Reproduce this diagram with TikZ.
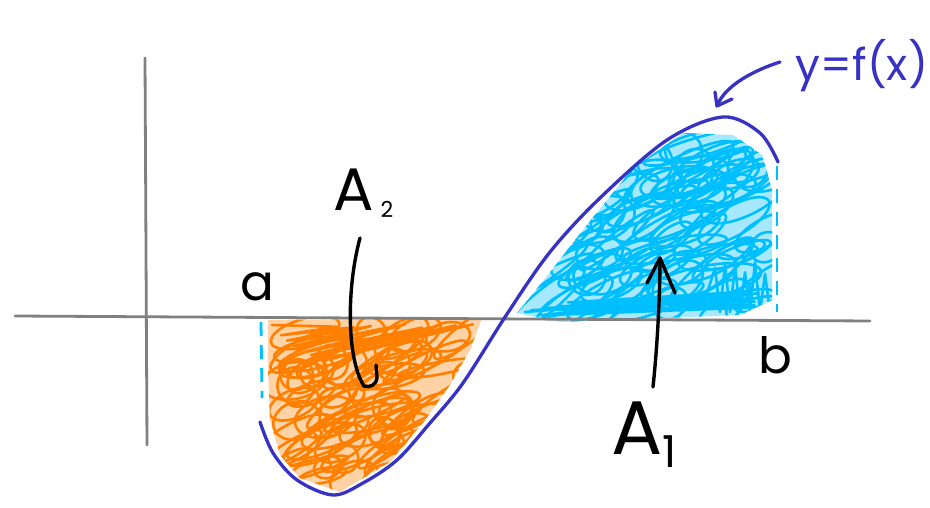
\documentclass[tikz,border=0pt]{standalone}
\usepackage{fontspec}
\setmainfont{Poppins}
\definecolor{curveblue}{RGB}{55,50,195}
\definecolor{skyfill}{RGB}{0,191,255}
\definecolor{orfill}{RGB}{255,128,0}
\definecolor{axisgray}{RGB}{128,128,128}
\tikzset{
  axisline/.style={draw=axisgray, line width=2.8pt, line cap=round},
  curveline/.style={draw=curveblue, line width=3.3pt, line cap=round},
  ink/.style={draw=black, line width=3.4pt, line cap=round, line join=round},
  blueink/.style={draw=curveblue, line width=3.3pt, line cap=round, line join=round},
  lbl/.style={inner sep=0pt, text=black},
  dashedge/.style={draw=skyfill, line width=2.8pt, dash pattern=on 14pt off 9pt},
  scrib/.style={line width=2.6pt, line cap=round, line join=round}
}
\begin{document}
\begin{tikzpicture}[x=1pt,y=-1pt]
\useasboundingbox (0,0) rectangle (930,508);
\fill[white] (0,0) rectangle (930,508);
\pgfmathsetseed{11}
% ---- orange region scribble ----
\begin{scope}
  \clip (268,320) -- (482,318) -- (470,350) -- (450,385) -- (425,420) -- (390,462) -- (340,492) -- (300,478) -- (280,455) -- (270,420) -- (268,370) -- cycle;
  \fill[orfill!35!white] (260,310) rectangle (490,500);
  \foreach \i in {1,...,75}{
    \pgfmathsetmacro\cx{285+rnd*190}
    \pgfmathsetmacro\cy{330+rnd*155}
    \pgfmathsetmacro\rx{14+rnd*40}
    \pgfmathsetmacro\ry{6+rnd*14}
    \pgfmathsetmacro\ang{10+rnd*28}
    \draw[scrib, orfill, rotate around={\ang:(\cx,\cy)}] (\cx,\cy) ellipse [x radius=\rx pt, y radius=\ry pt];
  }
  \draw[scrib, orfill] (272,325) \foreach \k in {1,...,9}{ -- ({320+\k*17},{322+rnd*6}) -- ({275+\k*6},{330+\k*3+rnd*8}) };
\end{scope}
% ---- blue region scribble ----
\begin{scope}
  \clip (517,313) -- (540,285) -- (583,230) -- (633,168) -- (683,133) -- (733,135) -- (762,155) -- (772,190) -- (772,300) -- (740,315) -- (560,322) -- cycle;
  \fill[skyfill!35!white] (510,120) rectangle (780,325);
  \foreach \i in {1,...,95}{
    \pgfmathsetmacro\cx{540+rnd*230}
    \pgfmathsetmacro\cy{145+rnd*170}
    \pgfmathsetmacro\rx{16+rnd*45}
    \pgfmathsetmacro\ry{6+rnd*16}
    \pgfmathsetmacro\ang{10+rnd*30}
    \draw[scrib, skyfill, rotate around={\ang:(\cx,\cy)}] (\cx,\cy) ellipse [x radius=\rx pt, y radius=\ry pt];
  }
  \draw[scrib, skyfill] (525,312) \foreach \k in {1,...,8}{ -- ({760-rnd*20},{292+rnd*18}) -- ({530+rnd*60},{300+rnd*16}) };
  \draw[scrib, skyfill] (705,300) \foreach \k in {1,...,6}{ -- ({705+\k*10},{262+rnd*12}) -- ({710+\k*10},{312}) };
\end{scope}
% ---- dashed edges ----
\coordinate (dLt) at (261,322);
\coordinate (dLb) at (262,398);
\coordinate (dRt) at (777,166);
\coordinate (dRb) at (777,312);
\draw[dashedge] (dLt) -- (dLb);
\draw[dashedge] (dRt) -- (dRb);
% ---- axes ----
\coordinate (xL) at (15,316);
\coordinate (xR) at (870,321);
\coordinate (yT) at (145,58);
\coordinate (yB) at (147,445);
\draw[axisline] (xL) -- (xR);
\draw[axisline] (yT) -- (yB);
% ---- curve ----
\draw[curveline] plot[smooth, tension=0.55] coordinates {(260,422) (273,453) (297,480) (333,495) (363,483) (397,460) (430,423) (463,383) (507,314) (550,252) (600,198) (667,140) (723,117) (760,133) (778,162)};
% ---- labels ----
\node[lbl, font=\fontsize{50}{50}\selectfont] (la) at (257,287) {a};
\node[lbl, font=\fontsize{50}{50}\selectfont] (lb) at (775,355) {b};
\node[lbl, font=\fontsize{60}{60}\selectfont] (A2) at (354,190) {A};
\node[lbl, font=\fontsize{22}{22}\selectfont] (A2s) at (387,209) {2};
\node[lbl, font=\fontsize{76}{76}\selectfont] (A1) at (637,428) {A};
\node[lbl, font=\fontsize{44}{44}\selectfont] (A1s) at (670,452) {1};
\node[lbl, text=curveblue, font=\fontsize{44}{44}\selectfont] (yf) at (862,66) {y=f(x)};
% ---- arrows ----
\coordinate (a2t) at (360,238);
\coordinate (a2h) at (364,386);
\draw[ink] (a2t) .. controls (346,290) and (347,360) .. (a2h) .. controls (370,388) and (376,385) .. (377,378) -- (376,365);
\coordinate (a1t) at (653,387);
\coordinate (a1h) at (660,258);
\draw[ink] (a1t) .. controls (658,340) and (660,290) .. (a1h);
\draw[ink] (647,283) -- (a1h) -- (675,293);
\coordinate (yft) at (780,62);
\coordinate (yfh) at (717,106);
\draw[blueink] (yft) .. controls (755,70) and (725,85) .. (yfh);
\draw[blueink] (715,92) -- (yfh) -- (732,99);
\end{tikzpicture}
\end{document}
